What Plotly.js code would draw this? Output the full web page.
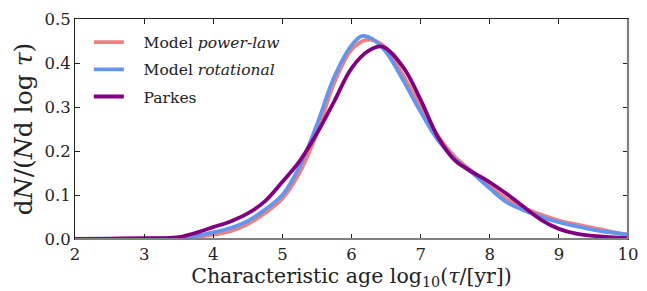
<!DOCTYPE html>
<html>
<head>
<meta charset="utf-8">
<script src="https://cdn.plot.ly/plotly-3.0.1.min.js"></script>
<style>html,body{margin:0;padding:0;background:#fff;}#chart{width:647px;height:291px;}</style>
</head>
<body>
<div id="chart"></div>
<script>
// log10 characteristic age grid
const xPowerLaw = [2, 2.5, 3, 3.25, 3.5, 3.75, 4, 4.25, 4.5, 4.75, 5, 5.25, 5.5, 5.75, 6, 6.2, 6.35, 6.5, 6.75, 7, 7.25, 7.5, 7.75, 8, 8.25, 8.5, 8.75, 9, 9.25, 9.5, 9.75, 10];
const yPowerLaw = [0, 0, 0.0005, 0.001, 0.002, 0.005, 0.010, 0.018, 0.034, 0.059, 0.092, 0.151, 0.240, 0.355, 0.430, 0.452, 0.450, 0.434, 0.371, 0.300, 0.234, 0.186, 0.153, 0.122, 0.090, 0.070, 0.055, 0.042, 0.033, 0.025, 0.017, 0.009];

const xRotational = [2, 2.5, 3, 3.25, 3.5, 3.75, 4, 4.25, 4.5, 4.75, 5, 5.25, 5.5, 5.75, 6, 6.15, 6.3, 6.5, 6.75, 7, 7.25, 7.5, 7.75, 8, 8.25, 8.5, 8.75, 9, 9.25, 9.5, 9.75, 10];
const yRotational = [0, 0, 0.0005, 0.001, 0.002, 0.007, 0.015, 0.025, 0.041, 0.067, 0.100, 0.165, 0.260, 0.368, 0.440, 0.461, 0.455, 0.425, 0.360, 0.289, 0.225, 0.181, 0.150, 0.115, 0.083, 0.065, 0.050, 0.038, 0.029, 0.021, 0.015, 0.010];

const xParkes = [2, 2.5, 3, 3.25, 3.5, 3.75, 4, 4.25, 4.5, 4.75, 5, 5.25, 5.5, 5.75, 6, 6.25, 6.45, 6.75, 7, 7.25, 7.5, 7.75, 8, 8.25, 8.5, 8.75, 9, 9.25, 9.5, 9.75, 10];
const yParkes = [0.0005, 0.001, 0.002, 0.002, 0.004, 0.014, 0.027, 0.040, 0.058, 0.086, 0.130, 0.177, 0.240, 0.313, 0.388, 0.428, 0.437, 0.390, 0.316, 0.232, 0.178, 0.152, 0.129, 0.102, 0.072, 0.043, 0.023, 0.012, 0.007, 0.004, 0.002];

const seriesNames = ['Model <i>power-law</i>', 'Model <i>rotational</i>', 'Parkes'];
const xTicks = [2, 3, 4, 5, 6, 7, 8, 9, 10];
const yTicks = [0.0, 0.1, 0.2, 0.3, 0.4, 0.5];
const yTickText = ['0.0', '0.1', '0.2', '0.3', '0.4', '0.5'];

const FONT = 'DejaVu Serif, serif';
const PAD = '&nbsp;&nbsp;&nbsp;';

const traces = [
  {x: xPowerLaw, y: yPowerLaw, name: PAD + seriesNames[0], legendgroup: 'a', mode: 'lines',
   line: {color: '#F08080', width: 3.8, shape: 'spline', smoothing: 1}},
  {x: xRotational, y: yRotational, name: PAD + seriesNames[1], legendgroup: 'b', mode: 'lines',
   line: {color: '#6495ED', width: 3.8, shape: 'spline', smoothing: 1}},
  {x: xParkes, y: yParkes, name: PAD + seriesNames[2], legendgroup: 'c', mode: 'lines',
   line: {color: '#800080', width: 3.8, shape: 'spline', smoothing: 1}}
];

const layout = {
  width: 647, height: 291,
  margin: {l: 75, r: 19, t: 19, b: 52},
  paper_bgcolor: '#fff', plot_bgcolor: '#fff',
  font: {family: FONT, color: '#222', size: 16},
  showlegend: true,
  legend: {x: 0.025, y: 0.97, xanchor: 'left', yanchor: 'top',
           bgcolor: 'rgba(0,0,0,0)', font: {family: FONT, size: 15.5, color: '#222'},
           traceorder: 'grouped', tracegroupgap: 4},
  xaxis: {range: [2, 10], tickvals: xTicks, ticktext: xTicks.map(String),
          ticks: 'inside', ticklen: 5, tickcolor: '#222', tickwidth: 1,
          showline: true, linecolor: '#222', linewidth: 1, mirror: 'ticks',
          showgrid: false, zeroline: false,
          tickfont: {family: FONT, size: 16.5, color: '#222'},
          title: {text: 'Characteristic age log<sub>10</sub>(<i>τ</i>/[yr])',
                  font: {family: FONT, size: 20.5, color: '#222'}, standoff: 3}},
  yaxis: {range: [0, 0.5], tickvals: yTicks, ticktext: yTickText,
          ticks: 'inside', ticklen: 5, tickcolor: '#222', tickwidth: 1,
          showline: true, linecolor: '#222', linewidth: 1, mirror: 'ticks',
          showgrid: false, zeroline: false,
          tickfont: {family: FONT, size: 16.5, color: '#222'},
          title: {text: 'd<i>N</i>/(<i>N</i>d log <i>τ</i>)',
                  font: {family: FONT, size: 25, color: '#222'}, standoff: 4}},
  shapes: [
    {type: 'line', xref: 'paper', yref: 'paper', x0: 0, x1: 1, y0: 0, y1: 0,
     line: {color: '#808080', width: 2.2}},
    {type: 'line', xref: 'paper', yref: 'paper', x0: 1, x1: 1, y0: 0, y1: 1,
     line: {color: '#808080', width: 2.2}}
  ]
};

Plotly.newPlot('chart', traces, layout, {displayModeBar: false, staticPlot: true});
</script>
</body>
</html>
